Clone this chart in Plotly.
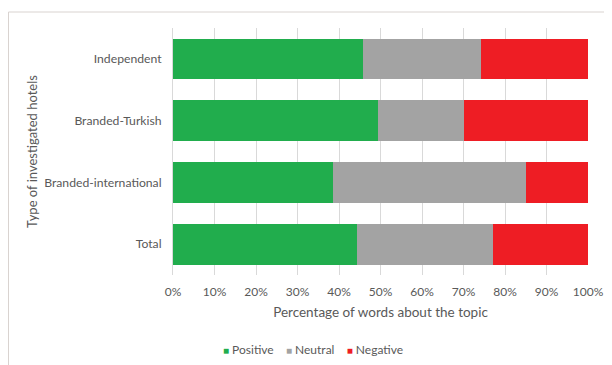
import plotly.graph_objects as go

categories = ["Independent", "Branded-Turkish", "Branded-international", "Total"]
positive = [45.9, 49.5, 38.6, 44.4]
neutral = [28.3, 20.7, 46.5, 32.6]
negative = [25.8, 29.8, 14.9, 23.0]
series_names = ["Positive", "Neutral", "Negative"]
series_colors = ["#21AD4D", "#A3A3A3", "#EE1D24"]
tick_vals = [0, 10, 20, 30, 40, 50, 60, 70, 80, 90, 100]
tick_text = ["0%", "10%", "20%", "30%", "40%", "50%", "60%", "70%", "80%", "90%", "100%"]

FONT = "Lato, Open Sans, sans-serif"
TXT = "#595959"

# page has an 8px body margin; figure is sized to fit inside the window
OFF = 8
W, H = 612 - OFF, 365 - OFF
L, T, PW, PH = 173 - OFF, 28 - OFF, 415, 247

fig = go.Figure()
for name, vals, col in zip(series_names, [positive, neutral, negative], series_colors):
    fig.add_trace(go.Bar(y=categories, x=vals, name=name, orientation="h",
                         marker=dict(color=col, line=dict(width=0))))

fig.update_layout(
    barmode="stack",
    bargap=0.34,
    width=W, height=H,
    margin=dict(l=L, r=W - L - PW, t=T, b=H - T - PH, autoexpand=False),
    paper_bgcolor="white", plot_bgcolor="white",
    font=dict(family=FONT, size=12, color=TXT),
    showlegend=False,
)
fig.update_xaxes(range=[0, 100], tickvals=tick_vals, ticktext=tick_text,
                 automargin=False,
                 showgrid=True, gridcolor="#D9D9D9", gridwidth=1,
                 zeroline=False, showline=False,
                 ticks="outside", ticklen=6, tickcolor="rgba(0,0,0,0)",
                 tickfont=dict(size=12, color=TXT),
                 title=dict(text="Percentage of words about the topic",
                            font=dict(size=13.5, color=TXT), standoff=9))
fig.update_yaxes(categoryorder="array", categoryarray=categories[::-1],
                 automargin=False,
                 showgrid=False, showline=True, linecolor="#D9D9D9", linewidth=1,
                 ticks="outside", ticklen=8, tickcolor="rgba(0,0,0,0)",
                 tickfont=dict(size=12.2, color=TXT),
                 title=dict(text="Type of investigated hotels",
                            font=dict(size=13, color=TXT), standoff=3))

# manual legend
sp = "&nbsp;" * 4
legend_text = sp.join(
    f"<span style='color:{c}; font-size:10px'>■</span>&nbsp;{n}" for n, c in zip(series_names, series_colors))
fig.add_annotation(text=legend_text, xref="paper", yref="paper",
                   x=(313 - 173) / PW, y=(275 - 349) / PH, xanchor="center", yanchor="middle",
                   showarrow=False, font=dict(size=12, color=TXT))

# chart border (top and left edges visible)
bx = (8.5 - 173) / PW
by = (275 - 12) / PH
fig.add_shape(type="line", xref="paper", yref="paper",
              x0=bx, x1=1.2, y0=by, y1=by,
              line=dict(color="#D9D3D0", width=1))
fig.add_shape(type="line", xref="paper", yref="paper",
              x0=bx, x1=bx, y0=by, y1=-0.5,
              line=dict(color="#D9D3D0", width=1))

fig.write_html("out.html")
